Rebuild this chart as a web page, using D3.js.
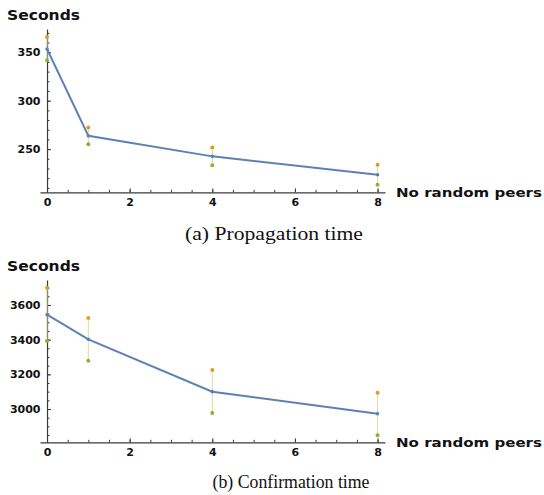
<!DOCTYPE html>
<html>
<head>
<meta charset="utf-8">
<script src="https://cdn.jsdelivr.net/npm/d3@7/dist/d3.min.js"></script>
<style>
  html, body { margin: 0; padding: 0; background: #fff; }
  svg { display: block; }
</style>
</head>
<body>
<svg id="chart" width="544" height="495"></svg>
<script>
// ---- data ----
const xVals = [0, 1, 4, 8];
const propMean = [353.4, 263.7, 242.5, 223.5];
const propHigh = [365.8, 272.4, 251.7, 233.8];
const propLow  = [341.7, 255.0, 233.2, 213.2];
const confMean = [3544, 3402, 3100, 2973];
const confHigh = [3700, 3525, 3225, 3094];
const confLow  = [3392, 3279, 2977, 2848];
const xTickVals = [0, 2, 4, 6, 8];
const propTickVals = [250, 300, 350];
const confTickVals = [3000, 3200, 3400, 3600];
const propMinor = d3.range(210, 371, 10);
const confMinor = d3.range(2850, 3701, 50);
const xMinor = d3.range(0, 8.01, 0.5);
const yLabel = "Seconds";
const xLabel = "No random peers";
const captionA = "(a)  Propagation time";
const captionB = "(b)  Confirmation time";

// ---- styling ----
const C_LINE = "#5e81b5", C_HI = "#e19c24", C_LO = "#8fb032", C_ERR = "#d3df9a", C_AXIS = "#3a3a3a";
const BOLD = "'DejaVu Sans', sans-serif";
const SERIF = "'Liberation Serif', 'Times New Roman', serif";

const svg = d3.select("#chart");

function panel(cfg) {
  const x = d3.scaleLinear().domain([-0.17, 8.18]).range([40, 385]);
  const y = d3.scaleLinear().domain(cfg.yDomain).range([cfg.yBottom, cfg.yTop]);
  const g = svg.append("g");

  // x axis minor
  g.append("g").attr("transform", `translate(0,${cfg.yBottom})`)
    .call(d3.axisBottom(x).tickValues(xMinor).tickFormat("").tickSizeInner(-2.5).tickSizeOuter(0))
    .call(a => a.select(".domain").remove())
    .call(a => a.selectAll("line").attr("stroke", C_AXIS));
  // x axis major
  g.append("g").attr("transform", `translate(0,${cfg.yBottom})`)
    .call(d3.axisBottom(x).tickValues(xTickVals).tickFormat(d3.format("d")).tickSizeInner(-4).tickSizeOuter(0).tickPadding(6.3))
    .call(a => a.select(".domain").attr("stroke", C_AXIS).attr("stroke-width", 1.2))
    .call(a => a.selectAll("line").attr("stroke", C_AXIS))
    .call(a => a.selectAll("text").attr("font-family", BOLD).attr("font-weight", "bold").attr("font-size", 11).attr("fill", "#111"));

  // y axis minor
  g.append("g").attr("transform", `translate(${x(0)},0)`)
    .call(d3.axisLeft(y).tickValues(cfg.minor).tickFormat("").tickSizeInner(-2.5).tickSizeOuter(0))
    .call(a => a.select(".domain").remove())
    .call(a => a.selectAll("line").attr("stroke", C_AXIS));
  // y axis major
  g.append("g").attr("transform", `translate(${x(0)},0)`)
    .call(d3.axisLeft(y).tickValues(cfg.ticks).tickFormat(d3.format("d")).tickSizeInner(-4).tickSizeOuter(0).tickPadding(6.5))
    .call(a => a.select(".domain").attr("stroke", C_AXIS).attr("stroke-width", 1.2))
    .call(a => a.selectAll("line").attr("stroke", C_AXIS))
    .call(a => a.selectAll("text").attr("font-family", BOLD).attr("font-weight", "bold").attr("font-size", 11).attr("fill", "#111"));

  const rows = xVals.map((v, i) => ({ x: v, m: cfg.mean[i], hi: cfg.high[i], lo: cfg.low[i] }));

  // error bars
  g.selectAll(".err").data(rows).enter().append("line")
    .attr("x1", d => x(d.x)).attr("x2", d => x(d.x))
    .attr("y1", d => y(d.hi)).attr("y2", d => y(d.lo))
    .attr("stroke", C_ERR).attr("stroke-width", 1);

  // mean line
  g.append("path").datum(rows)
    .attr("d", d3.line().x(d => x(d.x)).y(d => y(d.m)))
    .attr("fill", "none").attr("stroke", C_LINE).attr("stroke-width", 2);

  g.selectAll(".mpt").data(rows).enter().append("circle")
    .attr("cx", d => x(d.x)).attr("cy", d => y(d.m)).attr("r", 1.8).attr("fill", C_LINE);
  g.selectAll(".hpt").data(rows).enter().append("circle")
    .attr("cx", d => x(d.x)).attr("cy", d => y(d.hi)).attr("r", 2).attr("fill", C_HI);
  g.selectAll(".lpt").data(rows).enter().append("circle")
    .attr("cx", d => x(d.x)).attr("cy", d => y(d.lo)).attr("r", 2).attr("fill", C_LO);

  // labels
  g.append("text").attr("x", 7).attr("y", cfg.yTop - 9.5).text(yLabel)
    .attr("font-family", BOLD).attr("font-weight", "bold").attr("font-size", 14)
    .attr("textLength", 73).attr("lengthAdjust", "spacingAndGlyphs").attr("fill", "#111");
  g.append("text").attr("x", 396).attr("y", cfg.yBottom + 4.5).text(xLabel)
    .attr("font-family", BOLD).attr("font-weight", "bold").attr("font-size", 13)
    .attr("textLength", 146).attr("lengthAdjust", "spacingAndGlyphs").attr("fill", "#111");
  g.append("text").attr("x", cfg.capX).attr("y", cfg.capY).text(cfg.caption)
    .attr("font-family", SERIF).attr("font-size", 18)
    .attr("textLength", cfg.capW).attr("lengthAdjust", "spacingAndGlyphs").attr("fill", "#111");
}

panel({ yDomain: [205.4, 374], yBottom: 192.3, yTop: 29, ticks: propTickVals, minor: propMinor,
        mean: propMean, high: propHigh, low: propLow, caption: captionA, capX: 185, capY: 239.5, capW: 178 });
panel({ yDomain: [2808, 3744], yBottom: 442.3, yTop: 280, ticks: confTickVals, minor: confMinor,
        mean: confMean, high: confHigh, low: confLow, caption: captionB, capX: 212.5, capY: 488.3, capW: 157 });
</script>
</body>
</html>
